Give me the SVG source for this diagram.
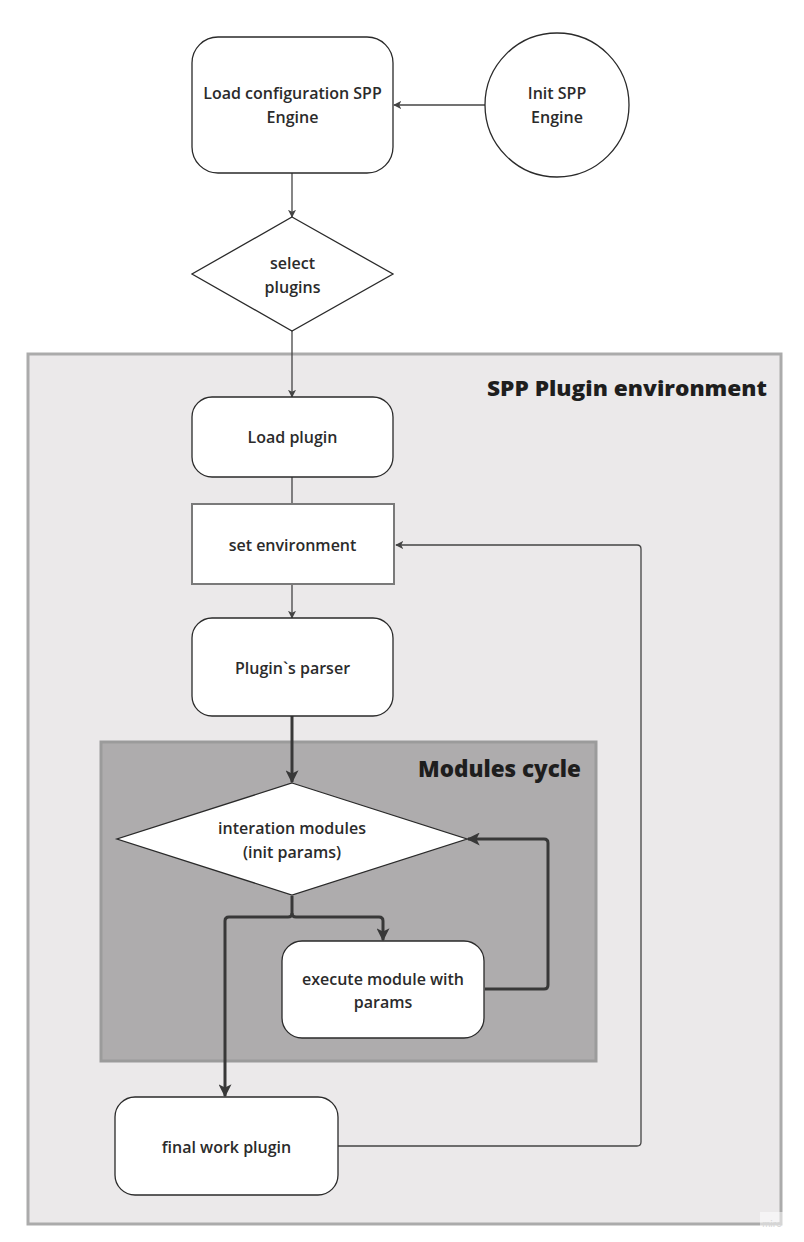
<svg xmlns="http://www.w3.org/2000/svg" width="804" height="1242" viewBox="0 0 804 1242">
<defs>
<style>
.bg{fill:#ffffff}
.node{fill:#ffffff;stroke:#2a2a2a;stroke-width:1.3}
.lbl{font-family:"Open Sans","Noto Sans","Liberation Sans",sans-serif;font-weight:600;font-size:16px;fill:#2b2b2b;text-anchor:middle}
.title{font-family:"Open Sans","Noto Sans","Liberation Sans",sans-serif;font-weight:800;fill:#1e1e1e;text-anchor:end}
.thin{fill:none;stroke:#444444;stroke-width:1.3}
.thick{fill:none;stroke:#383838;stroke-width:3}
</style>
<marker id="ah" viewBox="0 0 10 10" refX="9" refY="5" markerWidth="8" markerHeight="8" markerUnits="userSpaceOnUse" orient="auto">
<path d="M0,0 L10,5 L0,10 L2.5,5 Z" fill="#444444"/>
</marker>
<marker id="ahb" viewBox="0 0 10 10" refX="9" refY="5" markerWidth="13" markerHeight="13" markerUnits="userSpaceOnUse" orient="auto">
<path d="M0,0 L10,5 L0,10 L2.5,5 Z" fill="#383838"/>
</marker>
</defs>
<rect class="bg" x="0" y="0" width="804" height="1242"/>

<g id="env-container">
<rect x="28" y="354" width="753" height="870" fill="#ebe9ea" stroke="#ababab" stroke-width="3"/>
<text class="title" x="767" y="396" font-size="21" textLength="280" lengthAdjust="spacingAndGlyphs">SPP Plugin environment</text>
</g>

<g id="modules-container">
<rect x="101" y="742" width="495" height="319" fill="#aeacad" stroke="#9b9b9b" stroke-width="3"/>
<text class="title" x="581" y="777" font-size="22" textLength="163" lengthAdjust="spacingAndGlyphs">Modules cycle</text>
</g>

<g id="connectors">
<line class="thin" x1="485" y1="105" x2="394" y2="105" marker-end="url(#ah)"/>
<line class="thin" x1="292" y1="173" x2="292" y2="217" marker-end="url(#ah)"/>
<line class="thin" x1="292" y1="331" x2="292" y2="397" marker-end="url(#ah)"/>
<line class="thin" x1="292" y1="477" x2="292" y2="504"/>
<line class="thin" x1="292" y1="584" x2="292" y2="618" marker-end="url(#ah)"/>
<path class="thin" d="M338,1146 L637,1146 Q641,1146 641,1142 L641,549 Q641,545 637,545 L396,545" marker-end="url(#ah)"/>
<line class="thick" x1="292" y1="716" x2="292" y2="782" marker-end="url(#ahb)"/>
<path class="thick" d="M292,896 L292,913 Q292,917 288,917 L229,917 Q225,917 225,921 L225,1096" marker-end="url(#ahb)"/>
<path class="thick" d="M292,913 Q292,917 296,917 L379,917 Q383,917 383,921 L383,940" marker-end="url(#ahb)"/>
<path class="thick" d="M485,989 L544,989 Q548,989 548,985 L548,843 Q548,839 544,839 L468,839" marker-end="url(#ahb)"/>
</g>

<g id="load-config">
<rect class="node" x="192" y="37" width="201" height="136" rx="26"/>
<text class="lbl" x="292.5" y="99">Load configuration SPP</text>
<text class="lbl" x="292.5" y="123">Engine</text>
</g>

<g id="init-engine">
<circle class="node" cx="557" cy="105" r="72"/>
<text class="lbl" x="557" y="99">Init SPP</text>
<text class="lbl" x="557" y="123">Engine</text>
</g>

<g id="select-plugins">
<polygon class="node" points="292,217 393,274 292,331 192,274"/>
<text class="lbl" x="292.5" y="269">select</text>
<text class="lbl" x="292.5" y="293">plugins</text>
</g>

<g id="load-plugin">
<rect class="node" x="192" y="397" width="201" height="80" rx="20"/>
<text class="lbl" x="292.5" y="443">Load plugin</text>
</g>

<g id="set-environment">
<rect x="192" y="504" width="202" height="80" fill="#ffffff" stroke="#7a7a7a" stroke-width="2"/>
<text class="lbl" x="292.5" y="551">set environment</text>
</g>

<g id="plugin-parser">
<rect class="node" x="192" y="618" width="201" height="98" rx="20"/>
<text class="lbl" x="292.5" y="674">Plugin`s parser</text>
</g>

<g id="iteration-modules">
<polygon class="node" points="292,783 467,839 292,895 117,839"/>
<text class="lbl" x="292" y="834">interation modules</text>
<text class="lbl" x="292" y="858">(init params)</text>
</g>

<g id="execute-module">
<rect class="node" x="282" y="941" width="202" height="97" rx="20"/>
<text class="lbl" x="383" y="985">execute module with</text>
<text class="lbl" x="383" y="1008">params</text>
</g>

<g id="final-work">
<rect class="node" x="115" y="1097" width="223" height="98" rx="20"/>
<text class="lbl" x="226.5" y="1153">final work plugin</text>
</g>

<g id="watermark">
<rect x="760" y="1212" width="24" height="18" fill="#ffffff" opacity="0.5"/>
<text x="772" y="1227" font-family="Lato,'Liberation Sans',sans-serif" font-size="10" fill="#d6d6d6" text-anchor="middle">miro</text>
</g>
</svg>
